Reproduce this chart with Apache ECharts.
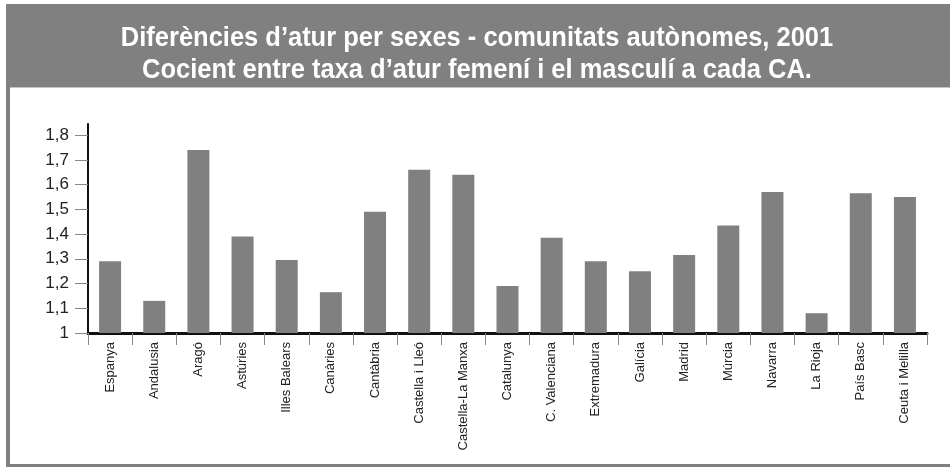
<!DOCTYPE html>
<html>
<head>
<meta charset="utf-8">
<script src="https://cdn.jsdelivr.net/npm/echarts@6/dist/echarts.min.js"></script>
<style>
  html, body { margin: 0; padding: 0; background: #ffffff; }
  #chart { width: 950px; height: 467px; }
</style>
</head>
<body>
<div id="chart"></div>
<script>
var titleLine1 = 'Diferències d\u2019atur per sexes - comunitats autònomes, 2001';
var titleLine2 = 'Cocient entre taxa d\u2019atur femení i el masculí a cada CA.';

var categories = ['Espanya', 'Andalusia', 'Aragó', 'Astúries', 'Illes Balears', 'Canàries',
  'Cantàbria', 'Castella i Lleó', 'Castella-La Manxa', 'Catalunya', 'C. Valenciana',
  'Extremadura', 'Galícia', 'Madrid', 'Múrcia', 'Navarra', 'La Rioja', 'País Basc', 'Ceuta i Melilla'];

var ratios = [1.29, 1.13, 1.74, 1.39, 1.295, 1.165, 1.49, 1.66, 1.64, 1.19, 1.385,
  1.29, 1.25, 1.315, 1.435, 1.57, 1.08, 1.565, 1.55];

var yTicks = [1, 1.1, 1.2, 1.3, 1.4, 1.5, 1.6, 1.7, 1.8];

var regular = "'Liberation Sans', Arial, sans-serif";

var chart = echarts.init(document.getElementById('chart'), null, { renderer: 'canvas' });

function titleText(txt, y) {
  return {
    type: 'text',
    x: 477,
    y: y,
    scaleX: 0.91,
    z: 10,
    style: {
      text: txt,
      fill: '#ffffff',
      font: 'bold 28px ' + regular,
      textAlign: 'center',
      textVerticalAlign: 'middle'
    }
  };
}

chart.setOption({
  animation: false,
  backgroundColor: '#ffffff',
  graphic: [
    { type: 'rect', z: -10, shape: { x: 6, y: 4, width: 944, height: 83 }, style: { fill: '#808080' } },
    { type: 'rect', z: -10, shape: { x: 6, y: 87, width: 944, height: 1 }, style: { fill: '#c4c4c4' } },
    { type: 'rect', z: -10, shape: { x: 6, y: 87, width: 4, height: 380 }, style: { fill: '#808080' } },
    { type: 'rect', z: -10, shape: { x: 6, y: 464, width: 944, height: 3 }, style: { fill: '#808080' } },
    titleText(titleLine1, 38),
    titleText(titleLine2, 70)
  ],
  grid: { left: 88, right: 23, top: 124, bottom: 134, containLabel: false },
  xAxis: {
    type: 'category',
    data: categories,
    boundaryGap: true,
    axisLine: { lineStyle: { color: '#111111', width: 3 } },
    axisTick: { show: true, alignWithLabel: false, length: 12, lineStyle: { color: '#888888', width: 1 } },
    axisLabel: {
      rotate: 90,
      interval: 0,
      margin: 9,
      color: '#222222',
      fontFamily: regular,
      fontSize: 13
    },
    splitLine: { show: false }
  },
  yAxis: {
    type: 'value',
    min: 1,
    max: 1.845,
    axisLine: { show: true, lineStyle: { color: '#111111', width: 2 } },
    axisTick: { show: true, length: 13, customValues: yTicks, lineStyle: { color: '#888888', width: 1 } },
    axisLabel: {
      customValues: yTicks,
      margin: 19,
      color: '#222222',
      fontFamily: regular,
      fontSize: 17,
      formatter: function (v) { return String(v).replace('.', ','); }
    },
    splitLine: { show: false }
  },
  series: [{
    type: 'bar',
    data: ratios,
    barWidth: 22,
    itemStyle: { color: '#808080' }
  }]
});
</script>
</body>
</html>
